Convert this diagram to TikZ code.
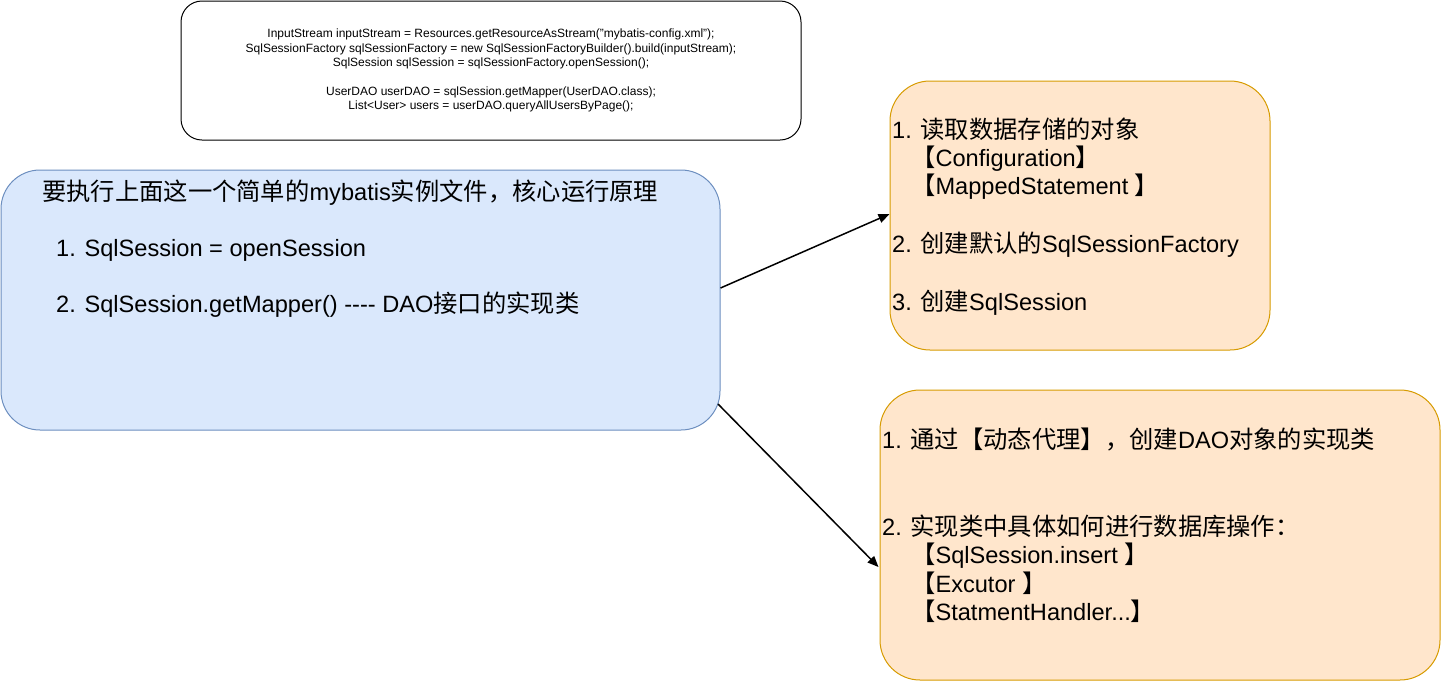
\documentclass[tikz,border=0pt]{standalone}
\usepackage{fontspec}
\setmainfont{Liberation Sans}
\newfontfamily\cjk[Scale=1.03]{Noto Sans CJK SC}
\usetikzlibrary{arrows.meta}
\definecolor{bluefill}{HTML}{DAE8FC}
\definecolor{bluedraw}{HTML}{6C8EBF}
\definecolor{orangefill}{HTML}{FFE6CC}
\definecolor{orangedraw}{HTML}{D79B00}
\tikzset{
  codebox/.style={draw=black, line width=1pt, fill=white, rounded corners=21pt, inner sep=0pt},
  bluebox/.style={draw=bluedraw, fill=bluefill, line width=1pt, rounded corners=39pt, inner sep=0pt},
  orangebox/.style={draw=orangedraw, fill=orangefill, line width=1pt, rounded corners=40pt, inner sep=0pt},
  txt/.style={anchor=base west, inner sep=0pt, font=\fontsize{23.6}{28}\selectfont},
  codetxt/.style={align=center, inner sep=0pt, font=\fontsize{12}{14.4}\selectfont},
  arr/.style={line width=1.5pt, -{Triangle[length=11pt,width=9pt]}}
}
\begin{document}
\begin{tikzpicture}[x=1pt,y=-1pt]
\useasboundingbox (0,0) rectangle (1441,681);
% code box
\node[codebox, minimum width=620pt, minimum height=139pt] (code) at (491,70.5) {};
\node[codetxt] (codetext) at (code.center) {InputStream inputStream = Resources.getResourceAsStream("mybatis-config.xml");\\
SqlSessionFactory sqlSessionFactory = new SqlSessionFactoryBuilder().build(inputStream);\\
SqlSession sqlSession = sqlSessionFactory.openSession();\\[14.4pt]
UserDAO userDAO = sqlSession.getMapper(UserDAO.class);\\
List<User> users = userDAO.queryAllUsersByPage();};
% blue box
\node[bluebox, minimum width=719pt, minimum height=260pt] (blue) at (360.5,300) {};
\node[txt] (b1) at (42,200) {{\cjk 要执行上面这一个简单的}mybatis{\cjk 实例文件，核心运行原理}};
\node[txt] (b2) at (56,256) {1. SqlSession = openSession};
\node[txt] (b3) at (56,312) {2. SqlSession.getMapper() -{}-{}-{}- DAO{\cjk 接口的实现类}};
% orange box 1
\node[orangebox, minimum width=380pt, minimum height=269pt] (o1) at (1080,215.5) {};
\node[txt] (o1a) at (892,138) {1. {\cjk 读取数据存储的对象}};
\node[txt] (o1b) at (911,166) {{\cjk 【}Configuration{\cjk 】}};
\node[txt] (o1c) at (911,194) {{\cjk 【}MappedStatement {\cjk 】}};
\node[txt] (o1d) at (892,252) {2. {\cjk 创建默认的}SqlSessionFactory};
\node[txt] (o1e) at (892,310) {3. {\cjk 创建}SqlSession};
% orange box 2
\node[orangebox, minimum width=560pt, minimum height=290pt] (o2) at (1160,535) {};
\node[txt] (o2a) at (882,448) {1. {\cjk 通过【动态代理】，创建}DAO{\cjk 对象的实现类}};
\node[txt] (o2b) at (882,535) {2. {\cjk 实现类中具体如何进行数据库操作：}};
\node[txt] (o2c) at (911,563) {{\cjk 【}SqlSession.insert {\cjk 】}};
\node[txt] (o2d) at (911,592) {{\cjk 【}Excutor {\cjk 】}};
\node[txt] (o2e) at (911,620) {{\cjk 【}StatmentHandler...{\cjk 】}};
% arrows
\draw[arr] ([yshift=12pt]blue.east) -- ([yshift=1.5pt]o1.west);
\draw[arr] ([xshift=-2.5pt,yshift=-104pt]blue.east) -- ([xshift=-1pt,yshift=-32pt]o2.west);
\end{tikzpicture}
\end{document}
